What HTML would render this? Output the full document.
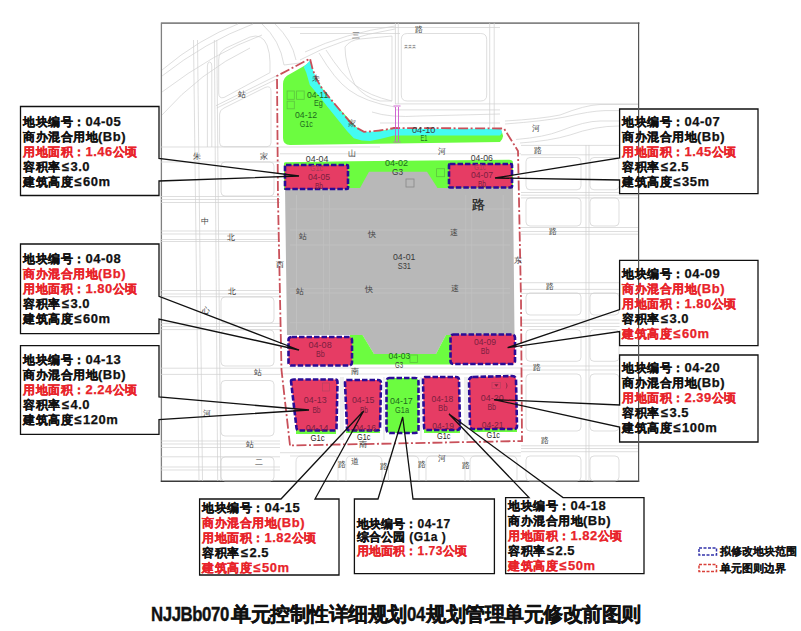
<!DOCTYPE html>
<html><head><meta charset="utf-8">
<style>
html,body{margin:0;padding:0;background:#fff;}
body{width:801px;height:631px;overflow:hidden;position:relative;font-family:"Liberation Sans",sans-serif;}
svg{position:absolute;left:0;top:0;}
.cb{position:absolute;font-size:12px;font-weight:bold;line-height:15px;color:#111;white-space:nowrap;-webkit-text-stroke:0.25px currentColor;letter-spacing:0.5px;}
.cb i{font-style:normal;font-size:13px;letter-spacing:0.5px;line-height:10px;}
.c17 i{font-size:12px;}
.le{font-weight:bold;margin:0 1.2px;}
.r{color:#e8232a;}
.title{position:absolute;left:151px;top:601px;font-size:20px;letter-spacing:-0.5px;line-height:26px;font-weight:bold;white-space:nowrap;color:#111;-webkit-text-stroke:0.4px #111;}
.lt{display:inline-block;transform:scaleX(0.84);transform-origin:0 50%;}
.lg{position:absolute;font-size:11px;letter-spacing:0.1px;font-weight:bold;color:#111;white-space:nowrap;-webkit-text-stroke:0.12px #111;}
</style></head><body>
<svg width="801" height="631" viewBox="0 0 801 631">
<!-- frame -->
<path d="M161.4,23.2H639.5" stroke="#858585" stroke-width="1.8"/><path d="M161.4,22.5V482" stroke="#808080" stroke-width="1.3"/><path d="M160.8,481.3H639.2" stroke="#3a3a3a" stroke-width="1.5"/>
<g fill="none" stroke="#d0d0d0" stroke-width="0.7">
<path d="M193.5,40L199,481"/>
<path d="M197.5,40L202.5,481"/>
<path d="M214.4,40L217.7,481"/>
<path d="M216.8,40L220.8,481"/>
<path d="M207.4,147V66Q207.4,62 209.6,62Q211.8,62 211.8,66V147"/>
<path d="M162,70 Q200,38 238,24"/>
<path d="M162,76 Q205,42 253,24"/>
<path d="M162,92 Q215,52 262,35"/>
<path d="M162,115 Q200,72 250,48"/>
<path d="M218.7,60 Q218.7,52 226,48 L250,37 Q262,33 267,45 Q270,53 270,62 V72.6 L224,97.5 Q218.7,99 218.7,93 Z"/>
<path d="M262,24 Q280,40 284,65 L300,63"/>
<path d="M275,24 Q292,40 296,60"/>
<path d="M216,105.7 L277,75.5"/>
<path d="M216.8,108 L277,79"/>
<path d="M219.6,114 Q219.6,110 224,108 L265,87.5 Q271,85 271,91 V142.7 Q271,146.7 267,146.7 H223.6 Q219.6,146.7 219.6,142.7 Z"/>
<path d="M225,162H270Q274,162 274,166V192Q274,196 270,196H225Q221,196 221,192V166Q221,162 225,162Z"/>
<path d="M225,297H270Q274,297 274,301V319Q274,323 270,323H225Q221,323 221,319V301Q221,297 225,297Z"/>
<path d="M225,330H270Q274,330 274,334V362Q274,366 270,366H225Q221,366 221,362V334Q221,330 225,330Z"/>
<path d="M225,380.5H270Q274,380.5 274,384.5V432Q274,436 270,436H225Q221,436 221,432V384.5Q221,380.5 225,380.5Z"/>
<path d="M225,457H270Q274,457 274,461V477Q274,481 270,481H225Q221,481 221,477V461Q221,457 225,457Z"/>
<path d="M161,147H280"/>
<path d="M161,162H280"/>
<path d="M161,196.5H280"/>
<path d="M161,199.5H280"/>
<path d="M161,202.5H280"/>
<path d="M161,231H280"/>
<path d="M161,234H280"/>
<path d="M161,239.5H280"/>
<path d="M161,241.5H280"/>
<path d="M161,290.5H280"/>
<path d="M161,294H280"/>
<path d="M161,296.7H280"/>
<path d="M161,323.4H280"/>
<path d="M161,326.5H280"/>
<path d="M161,329.6H280"/>
<path d="M161,368.2H280"/>
<path d="M161,374.4H280"/>
<path d="M161,441H280"/>
<path d="M161,444H280"/>
<path d="M161,447.5H280"/>
<path d="M161,456.8H280"/>
<path d="M161,467H280"/>
<path d="M161,470H280"/>
<path d="M530,157.5H577Q581,157.5 581,161.5V185.8Q581,189.8 577,189.8H530Q526,189.8 526,185.8V161.5Q526,157.5 530,157.5Z"/>
<path d="M594,157.5H615Q619,157.5 619,161.5V185.8Q619,189.8 615,189.8H594Q590,189.8 590,185.8V161.5Q590,157.5 594,157.5Z"/>
<path d="M530,197.9H577Q581,197.9 581,201.9V222Q581,226 577,226H530Q526,226 526,222V201.9Q526,197.9 530,197.9Z"/>
<path d="M594,197.9H615Q619,197.9 619,201.9V222Q619,226 615,226H594Q590,226 590,222V201.9Q590,197.9 594,197.9Z"/>
<path d="M530,293H577Q581,293 581,297V311Q581,315 577,315H530Q526,315 526,311V297Q526,293 530,293Z"/>
<path d="M594,293H615Q619,293 619,297V311Q619,315 615,315H594Q590,315 590,311V297Q590,293 594,293Z"/>
<path d="M530,329.6H577Q581,329.6 581,333.6V357.3Q581,361.3 577,361.3H530Q526,361.3 526,357.3V333.6Q526,329.6 530,329.6Z"/>
<path d="M594,329.6H615Q619,329.6 619,333.6V357.3Q619,361.3 615,361.3H594Q590,361.3 590,357.3V333.6Q590,329.6 594,329.6Z"/>
<path d="M530,374H577Q581,374 581,378V427Q581,431 577,431H530Q526,431 526,427V378Q526,374 530,374Z"/>
<path d="M594,374H615Q619,374 619,378V427Q619,431 615,431H594Q590,431 590,427V378Q590,374 594,374Z"/>
<path d="M530,456H577Q581,456 581,460V477Q581,481 577,481H530Q526,481 526,477V460Q526,456 530,456Z"/>
<path d="M594,456H615Q619,456 619,460V477Q619,481 615,481H594Q590,481 590,477V460Q590,456 594,456Z"/>
<path d="M521,145.4H639"/>
<path d="M521,154.8H639"/>
<path d="M521,192.5H639"/>
<path d="M521,195.2H639"/>
<path d="M521,197.9H639"/>
<path d="M521,227.5H639"/>
<path d="M521,231.5H639"/>
<path d="M521,234.2H639"/>
<path d="M521,282.7H639"/>
<path d="M521,289.4H639"/>
<path d="M521,293.4H639"/>
<path d="M521,320H639"/>
<path d="M521,323.3H639"/>
<path d="M521,326.5H639"/>
<path d="M521,366H639"/>
<path d="M521,370H639"/>
<path d="M521,445.8H639"/>
<path d="M521,448.5H639"/>
<path d="M521,451.7H639"/>
<path d="M586,145V481"/>
<path d="M589,145V481"/>
<path d="M505,121 Q540,119 560,115 Q585,105 600,104.5 L638,104.5"/>
<path d="M505,124 Q545,121 565,117 Q590,111 605,110.6 L638,110.6"/>
<path d="M516,139.5 Q545,137 560,131 Q585,121 600,121 L619,121"/>
<path d="M520,143 Q550,141 570,135 Q595,126 619,126"/>
<path d="M290,27.5H500"/>
<path d="M300,33.5H400"/>
<path d="M407.3,33.5H480.7Q486.7,33.5 486.7,39.5V95Q486.7,101 480.7,101H407.3Q401.3,101 401.3,95V39.5Q401.3,33.5 407.3,33.5Z"/>
<path d="M395.4,23V104"/>
<path d="M398.3,23V104"/>
<path d="M489.7,23V128"/>
<path d="M494.2,23V128"/>
<path d="M345,47 Q350,40 360,39 L392,36 V101 H380 Q365,98 355,85 Q345,65 345,47 Z"/>
<path d="M300,60 Q340,38 395,29"/>
<path d="M305,52 Q345,33 395,26"/>
<path d="M319,53 Q335,80 349,90 Q365,102 395,107"/>
<path d="M326,50 Q342,75 355,85 Q370,96 392,101"/>
<path d="M395,103.9H639"/>
<path d="M395,109.9H500"/>
<path d="M380,123H500"/>
<path d="M372,112 Q390,118 420,116 L500,114"/>
<path d="M280,153.8H521"/>
<path d="M280,147H380"/>
<path d="M280,452.7H521"/>
<path d="M290,456H521"/>
<path d="M296,481V462Q296,456 301,456H333Q338,456 338,462V481"/>
<path d="M346,481V462Q346,456 351,456H377Q382,456 382,462V481"/>
<path d="M388.5,481V462Q388.5,456 393.5,456H414Q419,456 419,462V481"/>
<path d="M426,481V462Q426,456 431,456H460Q465,456 465,462V481"/>
<path d="M470,481V462Q470,456 475,456H512Q517,456 517,462V481"/>
<path d="M280,368H521"/>
<path d="M280,374H521"/>
<path d="M341,377V440"/>
<path d="M343,377V440"/>
<path d="M384,377V440"/>
<path d="M421,377V440"/>
<path d="M465,377V440"/>
<path d="M467,377V440"/>

</g>
<!-- north green -->
<path d="M283,84 Q283,77 290,74 L304,66 L310,62 L316,80 L332,101 L348,118 L356,127 L365,133 L394,129 L500,129 Q506,136 500,142 L290,145 Q283,145 283,138 Z" fill="#6cfc40"/>
<!-- river cyan -->
<path d="M303.8,67 L310,60.5 L312.7,69.5 L316.5,79 L322,88.5 L328.8,96.9 L340.7,111.1 L351,123 L356.1,127.5 L364,131.8 L380,131.5 L394,128.8 L500,128.8 Q504,132 500,135.5 L394,135.5 L380,139 L370,141 L361.7,140.5 L353.8,138.2 L347,131 L336.7,118.3 L327.2,106.4 L318.5,95.3 L309.8,85 L306.3,72.7 Z" fill="#44fbf2"/>
<!-- G3 top strip -->
<path d="M284,163.5 Q284,162.3 285.5,162.3 L350,161.3 L509,159.7 Q513,159.7 513,163 L513,190 L284,190 Z" fill="#6cfc40"/>
<!-- gray S31 -->
<path d="M285,188 L360,188 L369,171.7 L427,171.7 L437.5,188 L513,188 L514.5,335 L446,335 L436,354 L374,354 L362.5,335 L287,335 Z" fill="#b8b8b8"/>
<g stroke="#c3c3c3" stroke-width="0.7" fill="none">
<path d="M296.5,195V330M323.4,195V330M329.4,195V330M465.8,195V330M471.8,195V330M503.2,195V330M290,209H510M290,230H510M290,245H510M290,288.4H510M290,293H510M290,322.8H510"/>
</g>
<!-- G3 bottom strip -->
<path d="M350,335 L362.5,335 L374,354 L436,354 L446,335 L452,335 L452,364.5 L350,364.5 Z" fill="#6cfc40"/>
<!-- bottom G1c strips -->
<rect x="296" y="428" width="40" height="6" fill="#6cfc40"/>
<rect x="346" y="427" width="34" height="6" fill="#6cfc40"/>
<rect x="424" y="427" width="36" height="6" fill="#6cfc40"/>
<rect x="472" y="426" width="45" height="6" fill="#6cfc40"/>
<!-- red boundary -->
<path d="M290,445.5 L281.5,370 L278,200 L277,76 L310,58.6 L312.7,69.5 L316.5,79 L322,88.5 L328.8,96.9 L340.7,111.1 L351,123 L356.1,127.5 L364,131.8 Q380,131 394,128 L504,128.5 L518,151 L519,200 L521,300 L522,441 Z" fill="none" stroke="#c9505a" stroke-width="1.8" stroke-dasharray="10,2.5,2,2.5"/>
<!-- pink blocks -->
<g fill="#e63c64" stroke="#2a0c96" stroke-width="2.6" stroke-dasharray="5.5,2">
<rect x="285" y="165" width="63" height="24" rx="1"/>
<rect x="449" y="164" width="63" height="23.5" rx="1"/>
<rect x="288.5" y="337" width="63.5" height="28.5" rx="3"/>
<rect x="450.5" y="334.5" width="64.5" height="29.5" rx="3"/>
<path d="M291,381 Q291,379.5 294,379.5 L335,379.5 Q337.5,379.5 337.5,382 L336.5,428 Q336.5,430.5 334,430.5 L299,430.5 Q297,430.5 296.5,428 Z"/>
<path d="M347,380 L378,380 Q381,380 381,383 L380,428 Q380,430.5 377,430.5 L350,430.5 Q347,430.5 347,428 L345,383 Q345,380 347,380 Z"/>
<path d="M425,377 L456,377 Q459,377 459,380 L460,427 Q460,430 457,430 L427,430 Q424,430 424,427 L423,380 Q423,377 425,377 Z"/>
<path d="M473,377 L512,376 Q516,376 516,380 L517,426 Q517,429 514,429 L473,429 Q470,429 470,426 L469,381 Q469,377 473,377 Z"/>
</g>
<path d="M389,378 L415,378 Q418.5,378 418.5,382 L418.5,429 Q418.5,433 415,433 L390,433 Q386.5,433 386.5,429 L386.5,382 Q386.5,378 389,378 Z" fill="#6cfc40" stroke="#2a0c96" stroke-width="2.6" stroke-dasharray="5.5,2"/>
<g fill="none" stroke="#cc55cc" stroke-width="0.9"><path d="M395.5,107V141M398.5,107V141M393.5,106H400.5M393.5,142H400.5"/></g>
<g fill="none" stroke="#5cc23e" stroke-width="0.8"><rect x="287.1" y="91" width="7.2" height="8.3"/><rect x="296.6" y="91" width="7.6" height="8.3"/><rect x="287.1" y="101.2" width="7.2" height="7.6"/><rect x="436.6" y="168.7" width="8" height="8"/><rect x="410" y="355" width="7.5" height="7.5"/></g>
<rect x="406" y="179" width="8" height="8" fill="none" stroke="#888" stroke-width="0.8"/>
<rect x="492" y="382.5" width="8.5" height="6" fill="none" stroke="#b04060" stroke-width="0.6"/>
<path d="M494.3,384.2 L498.5,384.2 L496.4,386.7 Z" fill="#7a2040"/>
<path d="M505.5,382 Q509.5,385.5 505.5,389.5 Q507.5,385.5 505.5,382 Z" fill="#8a2848"/>
<rect x="322.5" y="383" width="7" height="8" fill="none" stroke="#b04060" stroke-width="0.6"/>
<text x="404" y="48" font-family="Liberation Sans" font-size="3.5" fill="#666">某某某</text>
<!-- labels -->
<g font-family="Liberation Sans" font-size="8.3">
<text x="306.9" y="97.5" fill="#1d6b1d" textLength="21.4" lengthAdjust="spacingAndGlyphs">04-11</text>
<text x="314" y="106" fill="#1d6b1d" textLength="8.8" lengthAdjust="spacingAndGlyphs">Eg</text>
<text x="295" y="117.7" fill="#1d6b1d" textLength="22.2" lengthAdjust="spacingAndGlyphs">04-12</text>
<text x="299.8" y="126.7" fill="#1d6b1d" textLength="13.1" lengthAdjust="spacingAndGlyphs">G1c</text>
<text x="412" y="133" fill="#3a3a3a" textLength="23.4" lengthAdjust="spacingAndGlyphs">04-10</text>
<text x="420.5" y="141.4" fill="#1d6b1d" textLength="7.0" lengthAdjust="spacingAndGlyphs">E1</text>
<text x="305.8" y="162" fill="#3a3a3a" textLength="22.7" lengthAdjust="spacingAndGlyphs">04-04</text>
<text x="470.7" y="160.5" fill="#3a3a3a" textLength="22.2" lengthAdjust="spacingAndGlyphs">04-06</text>
<text x="385" y="165.9" fill="#1d6b1d" textLength="23.0" lengthAdjust="spacingAndGlyphs">04-02</text>
<text x="392" y="174.8" fill="#3a3a3a" textLength="11.0" lengthAdjust="spacingAndGlyphs">G3</text>
<text x="310" y="171" fill="#a83a5a" textLength="13.0" lengthAdjust="spacingAndGlyphs">G1c</text>
<text x="308" y="180" fill="#7a2040" textLength="22.0" lengthAdjust="spacingAndGlyphs">04-05</text>
<text x="315" y="189" fill="#7a2040" textLength="8.0" lengthAdjust="spacingAndGlyphs">Bb</text>
<text x="474" y="170" fill="#a83a5a" textLength="12.0" lengthAdjust="spacingAndGlyphs">G1c</text>
<text x="471" y="178" fill="#7a2040" textLength="22.0" lengthAdjust="spacingAndGlyphs">04-07</text>
<text x="478" y="186.5" fill="#7a2040" textLength="8.0" lengthAdjust="spacingAndGlyphs">Bb</text>
<text x="393" y="260.4" fill="#3a3a3a" textLength="22.4" lengthAdjust="spacingAndGlyphs">04-01</text>
<text x="397.7" y="269.4" fill="#3a3a3a" textLength="13.2" lengthAdjust="spacingAndGlyphs">S31</text>
<text x="308.5" y="348" fill="#7a2040" textLength="23.2" lengthAdjust="spacingAndGlyphs">04-08</text>
<text x="316" y="356.6" fill="#7a2040" textLength="8.7" lengthAdjust="spacingAndGlyphs">Bb</text>
<text x="388.5" y="359.3" fill="#1d6b1d" textLength="21.8" lengthAdjust="spacingAndGlyphs">04-03</text>
<text x="395" y="368" fill="#3a3a3a" textLength="8.0" lengthAdjust="spacingAndGlyphs">G3</text>
<text x="474" y="345.2" fill="#7a2040" textLength="22.0" lengthAdjust="spacingAndGlyphs">04-09</text>
<text x="480.8" y="353.8" fill="#7a2040" textLength="8.5" lengthAdjust="spacingAndGlyphs">Bb</text>
<text x="303.8" y="403.2" fill="#7a2040" textLength="22.8" lengthAdjust="spacingAndGlyphs">04-13</text>
<text x="312.4" y="413" fill="#7a2040" textLength="8.1" lengthAdjust="spacingAndGlyphs">Bb</text>
<text x="305.7" y="431" fill="#7a2040" textLength="22.8" lengthAdjust="spacingAndGlyphs">04-14</text>
<text x="351.9" y="402.5" fill="#7a2040" textLength="22.6" lengthAdjust="spacingAndGlyphs">04-15</text>
<text x="360" y="413" fill="#7a2040" textLength="8.0" lengthAdjust="spacingAndGlyphs">Bb</text>
<text x="354" y="431" fill="#7a2040" textLength="22.0" lengthAdjust="spacingAndGlyphs">04-16</text>
<text x="390" y="403.8" fill="#1d6b1d" textLength="22.8" lengthAdjust="spacingAndGlyphs">04-17</text>
<text x="395" y="413" fill="#1d6b1d" textLength="14.0" lengthAdjust="spacingAndGlyphs">G1a</text>
<text x="431.4" y="402.2" fill="#7a2040" textLength="21.8" lengthAdjust="spacingAndGlyphs">04-18</text>
<text x="438" y="411" fill="#7a2040" textLength="9.5" lengthAdjust="spacingAndGlyphs">Bb</text>
<text x="432.3" y="429" fill="#7a2040" textLength="21.7" lengthAdjust="spacingAndGlyphs">04-19</text>
<text x="480.8" y="401.2" fill="#7a2040" textLength="22.8" lengthAdjust="spacingAndGlyphs">04-20</text>
<text x="487.4" y="410" fill="#7a2040" textLength="8.6" lengthAdjust="spacingAndGlyphs">Bb</text>
<text x="481.7" y="428" fill="#7a2040" textLength="21.9" lengthAdjust="spacingAndGlyphs">04-21</text>
<text x="310.4" y="441.3" fill="#222" textLength="14.3" lengthAdjust="spacingAndGlyphs">G1c</text>
<text x="357" y="440.4" fill="#222" textLength="13.3" lengthAdjust="spacingAndGlyphs">G1c</text>
<text x="437" y="439.3" fill="#222" textLength="13.4" lengthAdjust="spacingAndGlyphs">G1c</text>
<text x="486.5" y="438.4" fill="#222" textLength="13.3" lengthAdjust="spacingAndGlyphs">G1c</text>
</g>

<g font-family="Liberation Sans" font-size="7.5" fill="#444" text-anchor="middle">
<text x="197" y="158.6">朱</text>
<text x="264" y="158.6">家</text>
<text x="351.5" y="155.6">山</text>
<text x="442" y="153.6">河</text>
<text x="538" y="152.6">路</text>
<text x="242" y="96.6">站</text>
<text x="356.4" y="38.2">三</text>
<text x="419" y="32.2">路</text>
<text x="316" y="80.6">未</text>
<text x="352" y="125.6">家</text>
<text x="535.8" y="130.6">河</text>
<text x="205.3" y="223.6">中</text>
<text x="231" y="240.0">北</text>
<text x="232" y="294.1">北</text>
<text x="206.4" y="312.6">心</text>
<text x="279.5" y="267.3">西</text>
<text x="257.9" y="375.0">站</text>
<text x="207.4" y="415.6">河</text>
<text x="249.6" y="447.1">站</text>
<text x="552.7" y="234.1">路</text>
<text x="549.5" y="289.3">路</text>
<text x="537.2" y="370.3">路</text>
<text x="545" y="443.20000000000005">路</text>
<text x="518.4" y="262.6">东</text>
<text x="303.4" y="238.9">站</text>
<text x="372.2" y="237.2">快</text>
<text x="454.3" y="235.1">速</text>
<text x="300" y="293.6">站</text>
<text x="368.5" y="292.1">快</text>
<text x="455" y="290.6">速</text>
<text x="355" y="374.40000000000003">南</text>
<text x="362.5" y="447.20000000000005">南</text>
<text x="342" y="466.6">路</text>
<text x="355" y="463.6">道</text>
<text x="384.3" y="468.6">路</text>
<text x="422" y="466.6">路</text>
<text x="442" y="460.6">河</text>
<text x="465.5" y="467.6">路</text>
<text x="259" y="464.6">二</text>
</g>
<text x="478" y="208.5" font-family="Liberation Serif" font-size="12.5" fill="#222" stroke="#222" stroke-width="0.3" text-anchor="middle">路</text>

<!-- /labels -->
<!-- callouts -->
<g fill="#fff">
<rect x="20.5" y="106.5" width="138.5" height="89.0"/>
<rect x="20.5" y="244.0" width="138.5" height="89.6"/>
<rect x="20.5" y="345.6" width="138.5" height="88.8"/>
<rect x="619.6" y="109.0" width="138.4" height="84.6"/>
<rect x="619.6" y="260.4" width="138.4" height="85.2"/>
<rect x="619.6" y="355.0" width="138.4" height="87.0"/>
<rect x="199.6" y="499.0" width="139.4" height="76.0"/>
<rect x="354.4" y="499.0" width="140.0" height="74.6"/>
<rect x="505.6" y="497.6" width="138.4" height="76.0"/>
</g>
<g fill="none" stroke="#111" stroke-width="1.3">
<path d="M20.5,106.5 H159 V158.4 L299,176 L159,181 V195.5 H20.5 Z"/>
<path d="M20.5,244 H159 V296.4 L299,350 L159,319 V333.6 H20.5 Z"/>
<path d="M20.5,345.6 H159 V397 L309,410 L159,419.6 V434.4 H20.5 Z"/>
<path d="M758,109 H619.6 V158 L495,178 L619.6,180 V193.6 H758 Z"/>
<path d="M758,260.4 H619.6 V309.6 L507.6,347.6 L619.6,331.6 V345.6 H758 Z"/>
<path d="M758,355 H619.6 V405 L494,399.6 L619.6,427 V442 H758 Z"/>
<path d="M199.6,575 V499 H281 L363.6,411 L315,499 H339 V575 Z"/>
<path d="M354.4,573.6 V499 H378 L402.7,417 L413,499 H494.4 V573.6 Z"/>
<path d="M505.6,573.6 V497.6 H529 L449,414 L563,497.6 H644 V573.6 Z"/>
</g>
<line x1="638.6" y1="22.5" x2="638.6" y2="482" stroke="#555" stroke-width="1.2"/>
<!-- legend -->
<rect x="699" y="548" width="17.5" height="7" fill="none" stroke="#3333aa" stroke-width="1.5" stroke-dasharray="3,1.5"/>
<rect x="699" y="564.5" width="17.5" height="7" fill="none" stroke="#d9413a" stroke-width="1.5" stroke-dasharray="3,1.5"/>
</svg>

<div class="cb" style="left:23px;top:115px">地块编号：<i>04-05</i><br>商办混合用地<i>(Bb)</i><br><span class="r">用地面积：<i>1.46</i>公顷</span><br>容积率<i><b class="le">≤</b>3.0</i><br>建筑高度<i><b class="le">≤</b>60m</i></div>
<div class="cb" style="left:23px;top:252px">地块编号：<i>04-08</i><br><span class="r">商办混合用地<i>(Bb)</i><br>用地面积：<i>1.80</i>公顷</span><br>容积率<i><b class="le">≤</b>3.0</i><br>建筑高度<i><b class="le">≤</b>60m</i></div>
<div class="cb" style="left:23px;top:353px">地块编号：<i>04-13</i><br>商办混合用地<i>(Bb)</i><br><span class="r">用地面积：<i>2.24</i>公顷</span><br>容积率<i><b class="le">≤</b>4.0</i><br>建筑高度<i><b class="le">≤</b>120m</i></div>
<div class="cb" style="left:622px;top:115px">地块编号：<i>04-07</i><br>商办混合用地<i>(Bb)</i><br><span class="r">用地面积：<i>1.45</i>公顷</span><br>容积率<i><b class="le">≤</b>2.5</i><br>建筑高度<i><b class="le">≤</b>35m</i></div>
<div class="cb" style="left:622px;top:267px">地块编号：<i>04-09</i><br><span class="r">商办混合用地<i>(Bb)</i><br>用地面积：<i>1.80</i>公顷</span><br>容积率<i><b class="le">≤</b>3.0</i><br><span class="r">建筑高度<i><b class="le">≤</b>60m</i></span></div>
<div class="cb" style="left:622px;top:361px">地块编号：<i>04-20</i><br>商办混合用地<i>(Bb)</i><br><span class="r">用地面积：<i>2.39</i>公顷</span><br>容积率<i><b class="le">≤</b>3.5</i><br>建筑高度<i><b class="le">≤</b>100m</i></div>
<div class="cb" style="left:202px;top:501px">地块编号：<i>04-15</i><br><span class="r">商办混合用地<i>(Bb)</i><br>用地面积：<i>1.82</i>公顷</span><br>容积率<i><b class="le">≤</b>2.5</i><br><span class="r">建筑高度<i><b class="le">≤</b>50m</i></span></div>
<div class="cb c17" style="left:357px;top:517.5px;font-size:11.5px;line-height:13.7px;letter-spacing:0.1px">地块编号：<i>04-17</i><br>综合公园<i> (G1a )</i><br><span class="r">用地面积：<i>1.73</i>公顷</span></div>
<div class="cb" style="left:508px;top:499px">地块编号：<i>04-18</i><br>商办混合用地<i>(Bb)</i><br><span class="r">用地面积：<i>1.82</i>公顷</span><br>容积率<i><b class="le">≤</b>2.5</i><br><span class="r">建筑高度<i><b class="le">≤</b>50m</i></span></div>
<div class="lg" style="left:719.5px;top:544px">拟修改地块范围</div>
<div class="lg" style="left:719.5px;top:561px">单元图则边界</div>
<div class="title"><span class="lt" style="width:80px">NJJBb070</span>单元控制性详细规划<span class="lt" style="width:19.5px">04</span>规划管理单元修改前图则</div>
</body></html>
